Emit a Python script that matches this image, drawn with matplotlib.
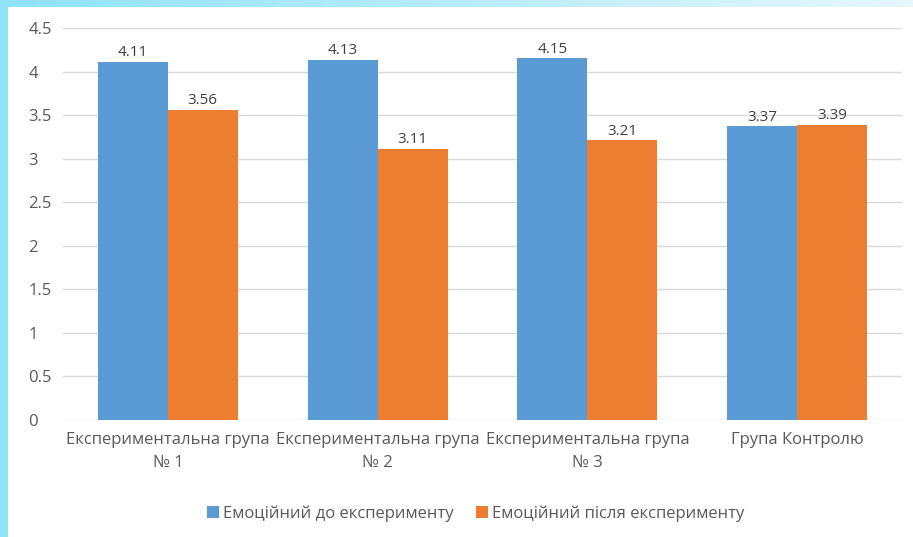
import matplotlib
matplotlib.use("Agg")
import matplotlib.pyplot as plt
import numpy as np
from matplotlib.patches import Rectangle

categories = ["Експериментальна група\n№ 1", "Експериментальна група\n№ 2",
              "Експериментальна група\n№ 3", "Група Контролю"]
before = [4.11, 4.13, 4.15, 3.37]
after = [3.56, 3.11, 3.21, 3.39]
series_names = ["Емоційний до експерименту", "Емоційний після експерименту"]
yticks = [0, 0.5, 1, 1.5, 2, 2.5, 3, 3.5, 4, 4.5]
ytick_labels = ["0", "0.5", "1", "1.5", "2", "2.5", "3", "3.5", "4", "4.5"]

plt.rcParams['font.family'] = ['Open Sans', 'DejaVu Sans']

W, H = 913, 537
fig = plt.figure(figsize=(W / 100, H / 100), dpi=100)
fig.patch.set_facecolor("white")

# decorative frame: cyan strip on the left and a fading strip across the top
grad = np.linspace(0, 1, 256)[None, :]
top_ax = fig.add_axes([0, 1 - 7 / H, 1, 7 / H])
cmap = matplotlib.colors.LinearSegmentedColormap.from_list(
    "frame", ["#8fe2f8", "#b8ecfa", "#e8f8fd"])
top_ax.imshow(grad, aspect="auto", cmap=cmap, extent=[0, 1, 0, 1])
top_ax.axis("off")
fig.patches.append(Rectangle((0, 0), 8 / W, 1, transform=fig.transFigure,
                             facecolor="#8fe2f8", edgecolor="none", zorder=5))

ax = fig.add_axes([63 / W, 1 - 420 / H, (902 - 63) / W, (420 - 28) / H])
x = np.arange(len(categories))
w = 1 / 3
blue, orange = "#5B9BD5", "#ED7D31"
b1 = ax.bar(x - w / 2, before, w, color=blue, label=series_names[0], zorder=3)
b2 = ax.bar(x + w / 2, after, w, color=orange, label=series_names[1], zorder=3)

for bars, vals in ((b1, before), (b2, after)):
    for r, v in zip(bars, vals):
        ax.text(r.get_x() + r.get_width() / 2, v + 0.02, f"{v:.2f}",
                ha="center", va="bottom", fontsize=11, color="#404040")

ax.set_xlim(-0.5, 3.5)
ax.set_ylim(0, 4.5)
ax.set_yticks(yticks)
ax.set_yticklabels(ytick_labels)
ax.set_xticks(x)
ax.set_xticklabels(categories, linespacing=1.55)
ax.grid(axis="y", color="#d9d9d9", linewidth=1, zorder=0)
for s in ax.spines.values():
    s.set_visible(False)
ax.tick_params(axis="both", length=0, colors="#595959", labelsize=12)
ax.tick_params(axis="y", pad=25)
ax.tick_params(axis="x", pad=9)
for lbl in ax.get_yticklabels():
    lbl.set_horizontalalignment("left")

ax.legend(loc="upper center", bbox_to_anchor=(0.492, (420 - 490) / (420 - 28)),
          ncol=2, frameon=False, fontsize=12, handlelength=0.75,
          handleheight=0.75, handletextpad=0.25, columnspacing=1.3,
          labelcolor="#595959")

fig.savefig("out.png", dpi=100)
